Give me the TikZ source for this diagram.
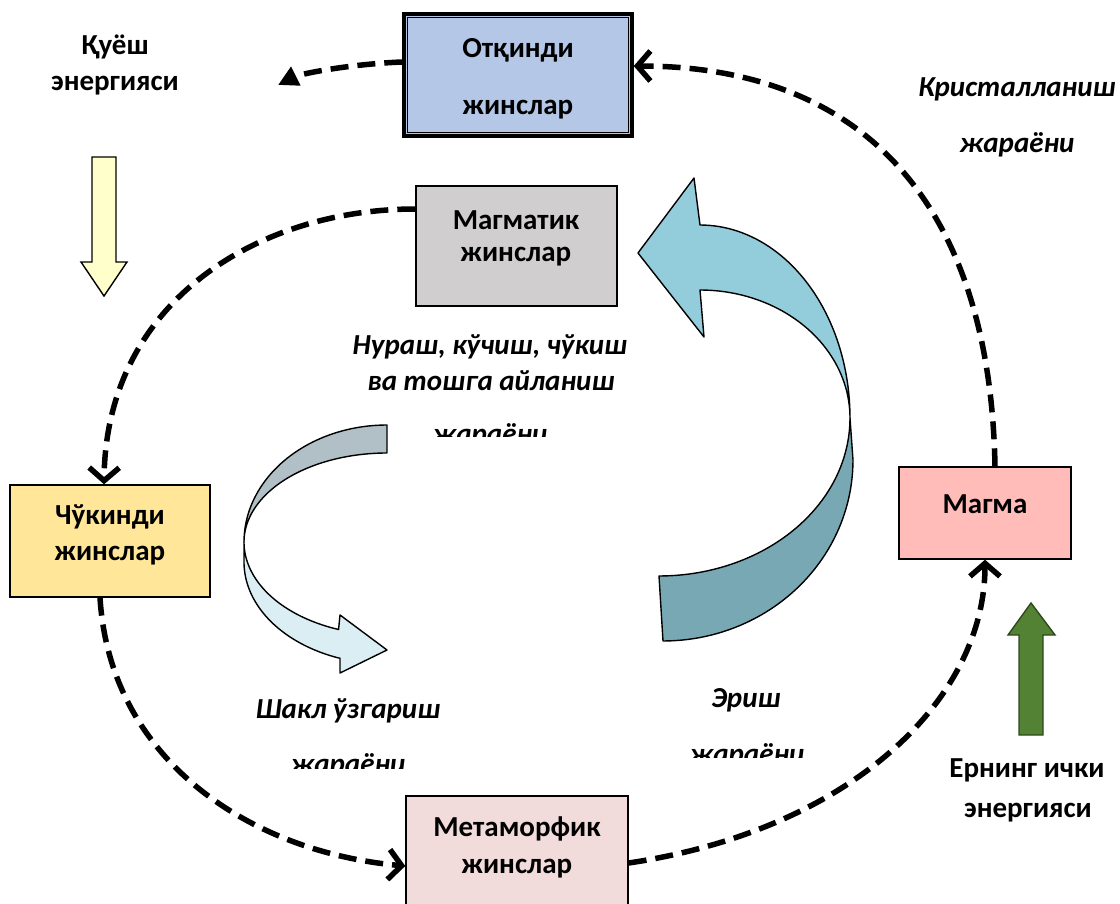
\documentclass[tikz,border=0pt]{standalone}
\usepackage{fontspec}
\setmainfont{Carlito}
\usetikzlibrary{arrows.meta}
\definecolor{otfill}{HTML}{B4C7E7}
\definecolor{mgfill}{HTML}{D0CECE}
\definecolor{chfill}{HTML}{FFE699}
\definecolor{mtfill}{HTML}{F2DCDB}
\definecolor{mafill}{HTML}{FFBCB9}
\definecolor{sunfill}{HTML}{FFFFCC}
\definecolor{earthfill}{HTML}{548235}
\definecolor{earthline}{HTML}{2E4A1C}
\definecolor{lgray}{HTML}{B0C0C6}
\definecolor{lpale}{HTML}{DAEEF3}
\definecolor{rlight}{HTML}{93CDDC}
\definecolor{rdark}{HTML}{78A8B3}
\tikzset{
  rockbox/.style={draw=black, line width=1.4pt, inner sep=0pt, minimum width=#1},
  txt/.style={font=\bfseries\fontsize{29}{34}\selectfont, inner sep=0pt, anchor=base},
  itxt/.style={font=\bfseries\itshape\fontsize{29}{34}\selectfont, inner sep=0pt, anchor=base},
  cycleline/.style={line width=5.5pt, dash pattern=on 18pt off 9pt},
  barb/.style={-{Straight Barb[length=13pt,width=30pt]}},
  blockarrow/.style={draw=black, line width=1.4pt, line join=round},
}
\begin{document}
\begin{tikzpicture}[x=1pt,y=-1pt]
\clip (0,0) rectangle (1120,904);
\fill[white] (0,0) rectangle (1120,904);

% boxes
\node[rockbox=228pt, minimum height=122pt, fill=otfill, line width=3.5pt] (ot) at (518,75) {};
\draw[line width=1pt] ([shift={(5pt,-5pt)}]ot.north west) rectangle ([shift={(-5pt,5pt)}]ot.south east);
\node[rockbox=201pt, minimum height=120pt, fill=mgfill] (mg) at (516.5,246) {};
\node[rockbox=200pt, minimum height=112pt, fill=chfill] (ch) at (110,541) {};
\node[rockbox=222pt, minimum height=124pt, fill=mtfill] (mt) at (517,858) {};
\node[rockbox=172pt, minimum height=92pt, fill=mafill] (ma) at (985,513) {};

% box texts
\node[txt] (ot1) at (518,58) {Отқинди};
\node[txt] (ot2) at (518,115) {жинслар};
\node[txt] (mg1) at (516,230) {Магматик};
\node[txt] (mg2) at (516,262) {жинслар};
\node[txt] (ch1) at (110,524) {Чўкинди};
\node[txt] (ch2) at (110,560) {жинслар};
\node[txt] (mt1) at (517,836) {Метаморфик};
\node[txt] (mt2) at (517,873) {жинслар};
\node[txt] (ma1) at (985,513) {Магма};

% free labels
\node[txt] (sun1) at (115,55) {Қуёш};
\node[txt] (sun2) at (115,91) {энергияси};
\node[txt] (in1) at (1027,777) {Ернинг ички};
\node[txt] (in2) at (1028,817) {энергияси};
\node[itxt] (kr1) at (1017,97) {Кристалланиш};
\node[itxt] (kr2) at (1017,153) {жараёни};
\node[itxt] (nu1) at (490,355) {Нураш, кўчиш, чўкиш};
\node[itxt] (nu2) at (491,390) {ва тошга айланиш};
\node[itxt] (sh1) at (348,718) {Шакл ўзгариш};
\node[itxt] (er1) at (746,707) {Эриш};
\begin{scope}
  \clip (380,400) rectangle (600,436);
  \node[itxt] (nu3) at (490,443) {жараёни};
\end{scope}
\begin{scope}
  \clip (250,740) rectangle (450,768);
  \node[itxt] (sh2) at (348,773) {жараёни};
\end{scope}
\begin{scope}
  \clip (650,730) rectangle (850,757);
  \node[itxt] (er2) at (747,763) {жараёни};
\end{scope}

% sun and earth arrows
\draw[fill=sunfill, line width=1.4pt, line join=miter]
  (92,157) -- (116,157) -- (116,262) -- (127,262) -- (104,296) -- (81,262) -- (92,262) -- cycle;
\draw[fill=earthfill, draw=earthline, line width=1.4pt]
  (1019,735) -- (1043,735) -- (1043,635) -- (1055,635) -- (1031,603) -- (1008,635) -- (1019,635) -- cycle;

% left curved arrow (deformation)
\draw[blockarrow, fill=lgray]
  plot[domain=-90:-180, samples=50] ({387+143*cos(\x)},{542+117*sin(\x)})
  -- plot[domain=180:270, samples=50] ({387+143*cos(\x)},{542+89*sin(\x)})
  -- cycle;
\draw[blockarrow, fill=lpale]
  plot[domain=180:109.8, samples=50] ({387+143*cos(\x)},{542+93*sin(\x)})
  -- (340,615) -- (387,650) -- (340,673) -- (340,658)
  -- plot[domain=109.8:180, samples=50] ({387+143*cos(\x)},{562+102*sin(\x)})
  -- cycle;

% right big curved arrow (melting)
\draw[blockarrow, fill=rdark]
  (850,418)
  -- plot[domain=0:90, samples=50] ({663+190*cos(\x)},{460+181*sin(\x)})
  -- (659,576)
  -- plot[domain=90:0, samples=50] ({659+191*cos(\x)},{418+158*sin(\x)})
  -- cycle;
\draw[blockarrow, fill=rlight]
  plot[domain=-90:0, samples=50] ({700+150*cos(\x)},{418+193*sin(\x)})
  -- plot[domain=0:-90, samples=50] ({700+150*cos(\x)},{418+128*sin(\x)})
  -- (704,337) -- (638,253) -- (694,178) -- cycle;

% cycle connectors
\coordinate (sunend) at (278,85);
\draw[cycleline, -{Triangle[length=20pt,width=20pt]}]
  ([yshift=13pt]ot.west) .. controls (350,64) and (300,74) .. (sunend);
\draw[cycleline, barb]
  ([yshift=37pt]mg.west) .. controls (260,209) and (106,300) .. ([xshift=-6pt]ch.north);
\draw[cycleline, barb]
  ([xshift=-10pt]ch.south) .. controls (110,760) and (250,852) .. ([yshift=-8pt]mt.west);
\draw[cycleline, barb]
  ([yshift=-5pt]mt.east) .. controls (850,830) and (985,700) .. (ma.south);
\draw[cycleline, barb]
  ([xshift=10pt]ma.north) .. controls (990,200) and (860,66) .. ([yshift=9pt]ot.east);
\end{tikzpicture}
\end{document}
